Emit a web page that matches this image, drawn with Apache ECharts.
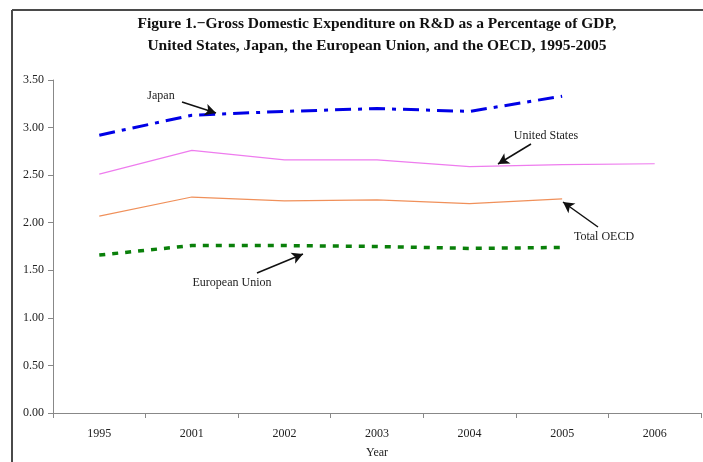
<!DOCTYPE html>
<html>
<head>
<meta charset="utf-8">
<script src="https://cdn.jsdelivr.net/npm/echarts@6/dist/echarts.min.js"></script>
<style>
  html, body { margin: 0; padding: 0; background: #fff; }
  #chart { width: 703px; height: 462px; }
</style>
</head>
<body>
<div id="chart"></div>
<script>
const years = ["1995", "2001", "2002", "2003", "2004", "2005", "2006"]
const yTicks = [0, 0.5, 1, 1.5, 2, 2.5, 3, 3.5]
const japan = [2.92, 3.13, 3.17, 3.20, 3.17, 3.33, null]
const unitedStates = [2.51, 2.76, 2.66, 2.66, 2.59, 2.61, 2.62]
const totalOecd = [2.07, 2.27, 2.23, 2.24, 2.20, 2.25, null]
const europeanUnion = [1.66, 1.76, 1.76, 1.75, 1.73, 1.74, null]

const serif = "'Liberation Serif', 'DejaVu Serif', serif"
const chart = echarts.init(document.getElementById("chart"))

const labelText = (x, y, text) => ({
  type: "text", x, y,
  style: { text, font: `12px ${serif}`, fill: "#222", align: "center", verticalAlign: "middle" }
})

const arrow = (x1, y1, x2, y2) => [
  { x: x1, y: y1, symbol: "none" },
  { x: x2, y: y2, symbol: "arrow", symbolSize: [9, 11] }
]

chart.setOption({
  animation: false,
  backgroundColor: "#fff",
  title: {
    text: "Figure 1.\u2212Gross Domestic Expenditure on R&D as a Percentage of GDP,\nUnited States, Japan, the European Union, and the OECD, 1995-2005",
    left: 372, top: 8, textAlign: "center",
    textStyle: { fontFamily: serif, fontSize: 15.5, fontWeight: "bold", color: "#111", lineHeight: 22 }
  },
  grid: { left: 53, right: 2, top: 80, bottom: 49, containLabel: false, outerBoundsMode: "none" },
  xAxis: {
    type: "category",
    data: years,
    boundaryGap: true,
    name: "Year",
    nameLocation: "middle",
    nameGap: 34,
    nameTextStyle: { fontFamily: serif, fontSize: 12, color: "#222" },
    axisLine: { lineStyle: { color: "#888", width: 1 } },
    axisTick: { show: true, length: 5, lineStyle: { color: "#888" } },
    axisLabel: { fontFamily: serif, fontSize: 12, color: "#222", margin: 15 }
  },
  yAxis: {
    type: "value",
    min: yTicks[0],
    max: yTicks[yTicks.length - 1],
    interval: 0.5,
    splitLine: { show: false },
    axisLine: { show: true, lineStyle: { color: "#888", width: 1 } },
    axisTick: { show: true, length: 5, lineStyle: { color: "#888" } },
    axisLabel: { fontFamily: serif, fontSize: 12, color: "#222", margin: 9, formatter: v => v.toFixed(2) }
  },
  series: [
    {
      name: "Japan", type: "line", data: japan, symbol: "none",
      lineStyle: { color: "#0000e6", width: 3, type: [16, 7, 4, 7] }
    },
    {
      name: "United States", type: "line", data: unitedStates, symbol: "none",
      lineStyle: { color: "#ee7cee", width: 1.2 }
    },
    {
      name: "Total OECD", type: "line", data: totalOecd, symbol: "none",
      lineStyle: { color: "#f0905a", width: 1.2 }
    },
    {
      name: "European Union", type: "line", data: europeanUnion, symbol: "none",
      lineStyle: { color: "#0a800a", width: 3.5, type: [6, 7] },
      markLine: {
        silent: true,
        animation: false,
        label: { show: false },
        lineStyle: { color: "#111", width: 1.5, type: "solid" },
        data: [
          arrow(182, 102, 216, 113),
          arrow(531, 144, 498, 164),
          arrow(598, 227, 563, 202),
          arrow(257, 273, 303, 254)
        ]
      }
    }
  ],
  graphic: [
    { type: "line", shape: { x1: 12, y1: 10, x2: 703, y2: 10 }, style: { stroke: "#4a4a4a", lineWidth: 2 } },
    { type: "line", shape: { x1: 12, y1: 10, x2: 12, y2: 462 }, style: { stroke: "#4a4a4a", lineWidth: 2 } },
    labelText(161, 96, "Japan"),
    labelText(546, 136, "United States"),
    labelText(604, 237, "Total OECD"),
    labelText(232, 283, "European Union")
  ]
})
</script>
</body>
</html>
